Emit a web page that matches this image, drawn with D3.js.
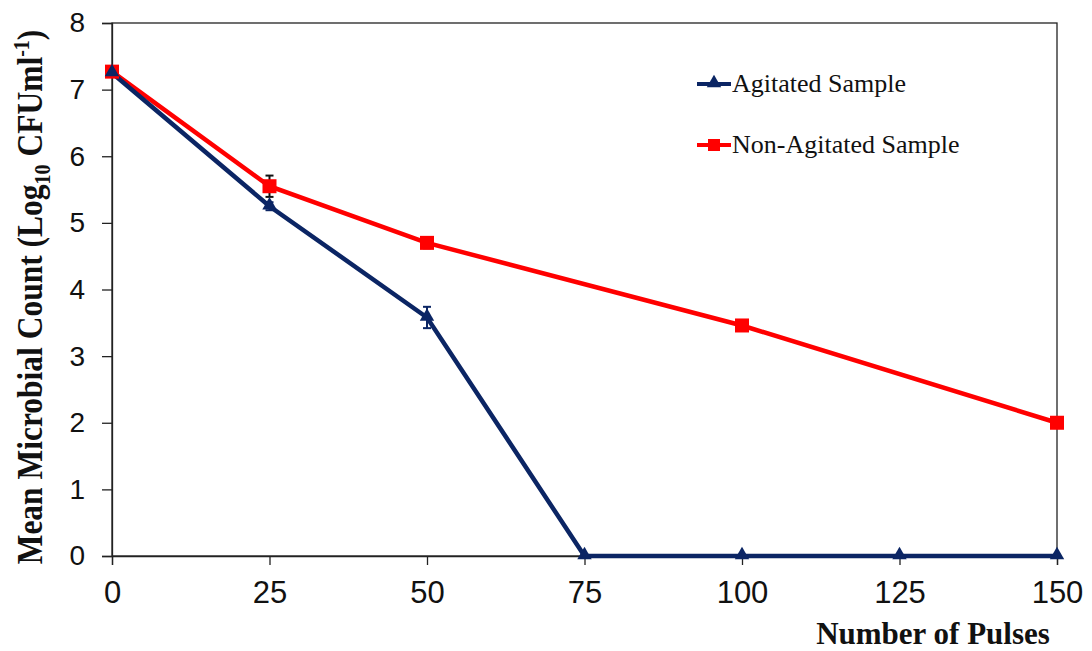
<!DOCTYPE html>
<html><head><meta charset="utf-8">
<script src="https://cdn.jsdelivr.net/npm/d3@7"></script>
<style>body{margin:0;background:#fff}svg{display:block}</style>
</head><body>
<svg id="c" width="1092" height="651"></svg>
<script>
const pulses = [0, 25, 50, 75, 100, 125, 150];
const agitated = [7.25, 5.25, 3.58, 0, 0, 0, 0];
const agitatedErr = [0, 0.06, 0.16, 0, 0, 0, 0];
const nonPulses = [0, 25, 50, 100, 150];
const nonAgitated = [7.27, 5.55, 4.70, 3.46, 2.0];
const nonAgitatedErr = [0, 0.16, 0.08, 0, 0];
const xTicks = [0, 25, 50, 75, 100, 125, 150];
const yTicks = [0, 1, 2, 3, 4, 5, 6, 7, 8];

const svg = d3.select('#c');
const L = 112, R = 1057, T = 23, B = 556;
const x = d3.scaleLinear().domain([0, 150]).range([L, R]);
const y = d3.scaleLinear().domain([0, 8]).range([B, T]);

// frame
svg.append('rect').attr('x', L).attr('y', T).attr('width', R - L).attr('height', B - T)
  .attr('fill', 'none').attr('stroke', '#222').attr('stroke-width', 1.3);

const xa = svg.append('g').attr('transform', `translate(0,${B})`)
  .call(d3.axisBottom(x).tickValues(xTicks).tickSize(9).tickPadding(10).tickFormat(d3.format('d')));
const ya = svg.append('g').attr('transform', `translate(${L},0)`)
  .call(d3.axisLeft(y).tickValues(yTicks).tickSize(10).tickPadding(17).tickFormat(d3.format('d')));
[xa, ya].forEach(a => {
  a.select('.domain').attr('stroke', '#222').attr('stroke-width', 1.3);
  a.selectAll('.tick line').attr('stroke', '#222').attr('stroke-width', 1.3);
  a.selectAll('.tick text').attr('font-family', 'Liberation Sans, Arial, sans-serif')
    .attr('fill', '#111');
});
ya.selectAll('.tick text').attr('font-size', 28);
xa.selectAll('.tick text').attr('font-size', 31).attr('y', 47).attr('dy', 0);

const navy = '#0b2564', red = '#ff0000';
const line = d3.line().x(d => x(d[0])).y(d => y(d[1]));

const agData = pulses.map((p, i) => [p, agitated[i], agitatedErr[i]]);
const naData = nonPulses.map((p, i) => [p, nonAgitated[i], nonAgitatedErr[i]]);

function errBars(data, color) {
  const g = svg.append('g').attr('stroke', color).attr('stroke-width', 2);
  data.filter(d => d[2] > 0).forEach(d => {
    const cx = x(d[0]);
    g.append('line').attr('x1', cx).attr('x2', cx).attr('y1', y(d[1] + d[2])).attr('y2', y(d[1] - d[2]));
    g.append('line').attr('x1', cx - 4).attr('x2', cx + 4).attr('y1', y(d[1] + d[2])).attr('y2', y(d[1] + d[2]));
    g.append('line').attr('x1', cx - 4).attr('x2', cx + 4).attr('y1', y(d[1] - d[2])).attr('y2', y(d[1] - d[2]));
  });
}

svg.append('path').datum(naData).attr('d', line).attr('fill', 'none')
  .attr('stroke', red).attr('stroke-width', 4.5);
svg.append('path').datum(agData).attr('d', line).attr('fill', 'none')
  .attr('stroke', navy).attr('stroke-width', 4.5);

errBars(naData, '#111');
svg.selectAll('.sq').data(naData).enter().append('rect')
  .attr('x', d => x(d[0]) - 7).attr('y', d => y(d[1]) - 7)
  .attr('width', 14).attr('height', 14).attr('fill', red);

errBars(agData, navy);
const tri = d3.symbol().type(d3.symbolTriangle).size(90);
svg.selectAll('.tr').data(agData).enter().append('path')
  .attr('d', tri).attr('transform', d => `translate(${x(d[0])},${y(d[1]) - 1})`).attr('fill', navy);

// legend
const serif = 'Liberation Serif, Times New Roman, serif';
const lg = svg.append('g');
lg.append('line').attr('x1', 697).attr('x2', 731).attr('y1', 84).attr('y2', 84).attr('stroke', navy).attr('stroke-width', 4);
lg.append('path').attr('d', tri).attr('transform', 'translate(714,83)').attr('fill', navy);
lg.append('text').attr('x', 732).attr('y', 92).text('Agitated Sample')
  .attr('font-family', serif).attr('font-size', 26).attr('fill', '#111');
lg.append('line').attr('x1', 697).attr('x2', 731).attr('y1', 145).attr('y2', 145).attr('stroke', red).attr('stroke-width', 4);
lg.append('rect').attr('x', 708).attr('y', 139).attr('width', 12).attr('height', 12).attr('fill', red);
lg.append('text').attr('x', 732).attr('y', 153).text('Non-Agitated Sample')
  .attr('font-family', serif).attr('font-size', 26).attr('fill', '#111');

// axis titles
svg.append('text').attr('x', 933).attr('y', 644).attr('text-anchor', 'middle')
  .attr('font-family', serif).attr('font-weight', 'bold')
  .attr('font-size', 31).attr('fill', '#111').text('Number of Pulses');

const yt = svg.append('text').attr('transform', 'translate(42,297) scale(1.15,1) rotate(-90)').attr('text-anchor', 'middle')
  .attr('font-family', serif).attr('font-weight', 'bold')
  .attr('font-size', 31.5).attr('fill', '#111');
yt.append('tspan').text('Mean Microbial Count (Log');
yt.append('tspan').text('10').attr('font-size', 20).attr('dy', 7);
yt.append('tspan').text(' CFUml').attr('dy', -7);
yt.append('tspan').text('-1').attr('font-size', 20).attr('dy', -11);
yt.append('tspan').text(')').attr('dy', 11);
</script>
</body></html>
